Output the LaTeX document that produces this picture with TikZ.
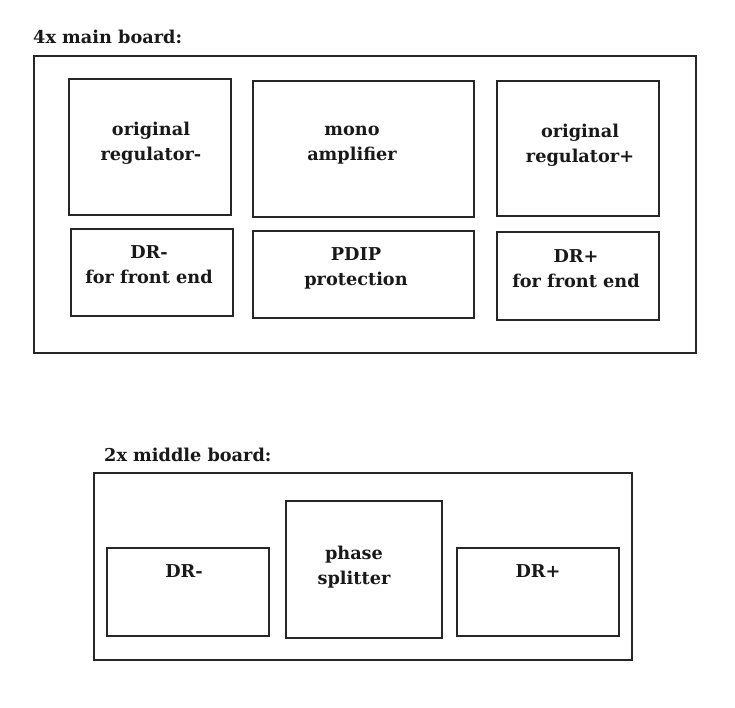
\documentclass[tikz,border=0pt]{standalone}
\usepackage{fontspec}
\setmainfont{DejaVu Serif}
\usetikzlibrary{fit}
\begin{document}
\begin{tikzpicture}[x=1pt,y=-1pt,
  board/.style={draw=black!85, line width=1.5pt, inner sep=0pt, fit={#1}},
  part/.style={draw=black!85, line width=1.5pt, inner sep=0pt, fit={#1}},
  lbl/.style={align=center, anchor=base, inner sep=0pt, text=black!90,
    font=\bfseries\fontsize{17.7}{25}\selectfont},
  ttl/.style={anchor=base west, inner sep=0pt, text=black!90,
    font=\bfseries\fontsize{17.7}{25}\selectfont}]
\useasboundingbox (0,0) rectangle (735,707);
% main board
\node[ttl] (tmain) at (33,43) {4x main board:};
\node[board={(34,56) (696,353)}] (main) {};
\node[part={(69,79) (231,215)}] (regm) {};
\node[part={(253,81) (474,217)}] (amp) {};
\node[part={(497,81) (659,216)}] (regp) {};
\node[part={(71,229) (233,316)}] (drmf) {};
\node[part={(253,231) (474,318)}] (pdip) {};
\node[part={(497,232) (659,320)}] (drpf) {};
\node[lbl] (lregm) at (151,160) {original\\regulator-};
\node[lbl] (lamp) at (352,160) {mono\\amplifier};
\node[lbl] (lregp) at (580,162) {original\\regulator+};
\node[lbl] (ldrmf) at (149,283) {DR-\\for front end};
\node[lbl] (lpdip) at (356,285) {PDIP\\protection};
\node[lbl] (ldrpf) at (576,287) {DR+\\for front end};
% middle board
\node[ttl] (tmid) at (104,461) {2x middle board:};
\node[board={(94,473) (632,660)}] (mid) {};
\node[part={(107,548) (269,636)}] (drm) {};
\node[part={(286,501) (442,638)}] (phase) {};
\node[part={(457,548) (619,636)}] (drp) {};
\node[lbl] (ldrm) at (184,577) {DR-};
\node[lbl] (lphase) at (354,584) {phase\\splitter};
\node[lbl] (ldrp) at (538,577) {DR+};
\end{tikzpicture}
\end{document}
